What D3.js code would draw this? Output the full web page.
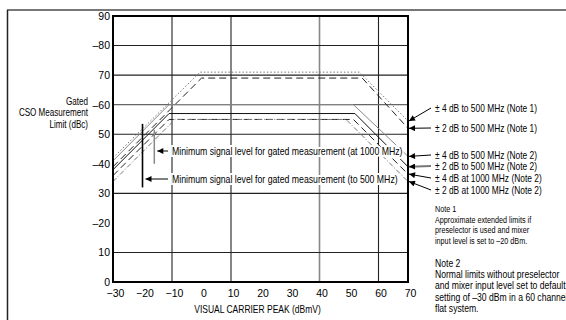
<!DOCTYPE html>
<html>
<head>
<meta charset="utf-8">
<script src="https://cdn.jsdelivr.net/npm/d3@7/dist/d3.min.js"></script>
<style>
  body { margin: 0; background: #fff; }
  svg { display: block; font-family: "Liberation Sans", Arial, Helvetica, sans-serif; }
</style>
</head>
<body>
<div id="chart"></div>
<script>
// axis ticks
const xTicks = [-30, -20, -10, 0, 10, 20, 30, 40, 50, 60, 70];
const yTicks = [0, 10, 20, 30, 40, 50, 60, 70, 80, 90];
const yTickLabels = ['0', '10', '\u201320', '30', '\u201340', '50', '\u201360', '70', '\u201380', '90'];
const xGrid = [-10, 10, 40, 60];
const yGrid = [10, 30, 50, 60, 70, 80];

// limit curves: [visual carrier peak dBmV, CSO limit dBc]
const note1Wide500 = [[-30, 42], [-0.5, 71], [53.5, 71], [70, 54.5]];
const note1Narrow500 = [[-30, 39], [0, 69], [54.5, 69], [70, 52]];
const note2Wide500 = [[-30, 41], [-11, 60], [51.5, 60], [70, 42.5]];
const note2Narrow500 = [[-30, 38], [-11, 57], [52, 57], [70, 39]];
const note2Wide1000 = [[-30, 36], [-11, 55], [51.5, 55], [70, 36.5]];
const note2Narrow1000 = [[-30, 34], [-9, 55], [49, 55], [70, 34]];

const curveLabels = [
  '\u00b1 4 dB to 500 MHz (Note 1)',
  '\u00b1 2 dB to 500 MHz (Note 1)',
  '\u00b1 4 dB to 500 MHz (Note 2)',
  '\u00b1 2 dB to 500 MHz (Note 2)',
  '\u00b1 4 dB at 1000 MHz (Note 2)',
  '\u00b1 2 dB at 1000 MHz (Note 2)'
];

// minimum signal level markers: x position, [low, high]
const minSignalX = [-16, -20];
const minSignalSpan = [[40, 51.5], [32, 53.5]];
const minSignalLabels = [
  'Minimum signal level for gated measurement (at 1000 MHz)',
  'Minimum signal level for gated measurement (to 500 MHz)'
];

const note1Lines = ['Note 1', 'Approximate extended limits if', 'preselector is used and mixer', 'input level is set to \u201320 dBm.'];
const note2Lines = ['Note 2', 'Normal limits without preselector', 'and mixer input level set to default', 'setting of \u201330 dBm in a 60 channel', 'flat system.'];

const width = 566, height = 320;
const svg = d3.select('#chart').append('svg')
  .attr('width', width)
  .attr('height', height);

// condensed text: the scan uses a narrow face, so squeeze horizontally
function narrowText(parent, rows, x0, yOf, opts) {
  const o = Object.assign({ size: 10, sx: 0.82, anchor: 'start', halo: false }, opts);
  const g = parent.append('g');
  const t = g.selectAll('g').data(rows).join('g')
    .attr('transform', (d, i) => `translate(${x0}, ${yOf(i)}) scale(${o.sx}, 1)`)
    .append('text')
    .attr('dy', '0.35em')
    .attr('text-anchor', o.anchor)
    .style('font-size', o.size + 'px')
    .attr('fill', '#000')
    .text(d => d);
  if (o.halo) {
    t.attr('stroke', '#fff').attr('stroke-width', 4).style('paint-order', 'stroke');
  }
  return g;
}

// outer figure frame
svg.append('line')
  .attr('x1', 7).attr('x2', width).attr('y1', 10).attr('y2', 10)
  .attr('stroke', '#777').attr('stroke-width', 2);
svg.append('line')
  .attr('x1', 7.5).attr('x2', 7.5).attr('y1', 10).attr('y2', height)
  .attr('stroke', '#222').attr('stroke-width', 1.5);

const x = d3.scaleLinear().domain([-30, 70]).range([113, 408]);
const y = d3.scaleLinear().domain([0, 90]).range([282, 16]);

// grid
svg.append('g').selectAll('line').data(xGrid).join('line')
  .attr('x1', d => x(d)).attr('x2', d => x(d))
  .attr('y1', y(90)).attr('y2', y(0))
  .attr('stroke', d => d === 40 ? '#888' : '#222')
  .attr('stroke-width', d => d === 40 ? 1.6 : 1.1);
svg.append('g').selectAll('line').data(yGrid).join('line')
  .attr('x1', x(-30)).attr('x2', x(70))
  .attr('y1', d => y(d)).attr('y2', d => y(d))
  .attr('stroke', d => d === 60 ? '#666' : '#222')
  .attr('stroke-width', 1.1);

// curves
svg.append('clipPath').attr('id', 'plot-clip')
  .append('rect')
  .attr('x', x(-30)).attr('y', y(90))
  .attr('width', x(70) - x(-30)).attr('height', y(0) - y(90));

const line = d3.line().x(d => x(d[0])).y(d => y(d[1]));
const curves = [
  { data: note1Wide500, color: '#777', dash: '1.5,2' },
  { data: note1Narrow500, color: '#222', dash: '7,4' },
  { data: note2Wide500, color: '#888', dash: null },
  { data: note2Narrow500, color: '#111', dash: null },
  { data: note2Wide1000, color: '#222', dash: '7,4' },
  { data: note2Narrow1000, color: '#777', dash: '5,2,1,2' }
];
svg.append('g').attr('clip-path', 'url(#plot-clip)')
  .selectAll('path').data(curves).join('path')
  .attr('d', d => line(d.data))
  .attr('fill', 'none')
  .attr('stroke', d => d.color)
  .attr('stroke-width', 1)
  .attr('stroke-dasharray', d => d.dash);

// arrow marker
svg.append('defs').append('marker')
  .attr('id', 'arrow')
  .attr('viewBox', '0 0 10 10')
  .attr('refX', 10).attr('refY', 5)
  .attr('markerWidth', 7).attr('markerHeight', 6)
  .attr('markerUnits', 'userSpaceOnUse')
  .attr('orient', 'auto')
  .append('path').attr('d', 'M0,0 L10,5 L0,10 z').attr('fill', '#000');

// minimum signal markers
svg.append('g').selectAll('line').data(minSignalX).join('line')
  .attr('x1', d => x(d)).attr('x2', d => x(d))
  .attr('y1', (d, i) => y(minSignalSpan[i][0]))
  .attr('y2', (d, i) => y(minSignalSpan[i][1]))
  .attr('stroke', (d, i) => i === 0 ? '#888' : '#000')
  .attr('stroke-width', (d, i) => i === 0 ? 1.5 : 1.6);

const minLabelY = [151, 179];
svg.append('g').selectAll('line').data(minSignalX).join('line')
  .attr('x1', 168).attr('x2', d => x(d) + 3)
  .attr('y1', (d, i) => minLabelY[i]).attr('y2', (d, i) => minLabelY[i])
  .attr('stroke', '#000').attr('stroke-width', 1)
  .attr('marker-end', 'url(#arrow)');
narrowText(svg, minSignalLabels, 172, i => minLabelY[i], { size: 10.5, sx: 0.83, halo: true });

// plot border
svg.append('rect')
  .attr('x', x(-30)).attr('y', y(90))
  .attr('width', x(70) - x(-30)).attr('height', y(0) - y(90))
  .attr('fill', 'none').attr('stroke', '#000').attr('stroke-width', 2);

// axes
const xAxis = svg.append('g')
  .attr('transform', `translate(2, ${y(0)})`)
  .call(d3.axisBottom(x).tickValues(xTicks).tickSize(0).tickPadding(8));
xAxis.select('.domain').remove();
xAxis.selectAll('text').style('font-size', '10.5px').attr('fill', '#000').style('font-family', null);

const yAxis = svg.append('g')
  .attr('transform', `translate(${x(-30) - 1}, 0)`)
  .call(d3.axisLeft(y).tickValues(yTicks).tickSize(0).tickPadding(2)
    .tickFormat((d, i) => yTickLabels[i]));
yAxis.select('.domain').remove();
yAxis.selectAll('text').style('font-size', '10.5px').attr('fill', '#000').style('font-family', null);

// axis titles
narrowText(svg, ['VISUAL CARRIER PEAK (dBmV)'], (x(-30) + x(70)) / 2 - 3, () => 309, { size: 10, sx: 0.85, anchor: 'middle' });
narrowText(svg, ['Gated', 'CSO Measurement', 'Limit (dBc)'], 88, i => 101 + i * 11.5, { size: 10.5, sx: 0.77, anchor: 'end' });

// curve labels with leader arrows
const curveLabelY = [108, 128, 155, 166, 178, 190];
const curveLabelX = 433;
svg.append('g').selectAll('line').data(curves).join('line')
  .attr('x1', curveLabelX - 2)
  .attr('y1', (d, i) => curveLabelY[i])
  .attr('x2', d => x(70) + 1)
  .attr('y2', d => y(d.data[d.data.length - 1][1]))
  .attr('stroke', (d, i) => i === 3 ? '#777' : '#000')
  .attr('stroke-width', (d, i) => i === 3 ? 1.8 : 1)
  .attr('marker-end', 'url(#arrow)');
narrowText(svg, curveLabels, curveLabelX + 2, i => curveLabelY[i], { size: 10, sx: 0.84 });

// notes
narrowText(svg, note1Lines, 435, i => 209 + i * 10.5, { size: 9.5, sx: 0.76 });
narrowText(svg, note2Lines, 435, i => 263 + i * 11.3, { size: 10.5, sx: 0.82 });
</script>
</body>
</html>
